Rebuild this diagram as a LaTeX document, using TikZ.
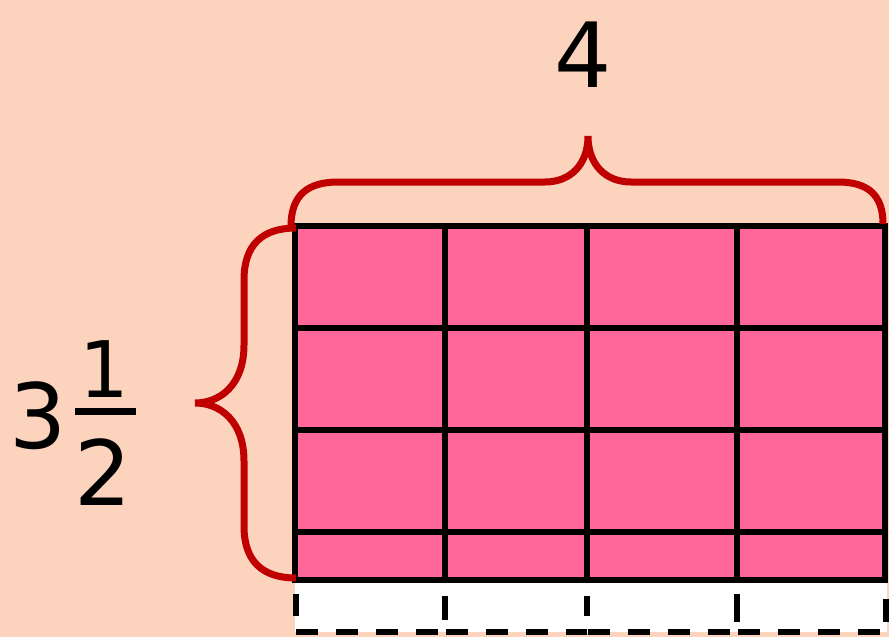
\documentclass[tikz,border=0pt]{standalone}
\usepackage{fontspec}
\setmainfont{DejaVu Sans}
\definecolor{bgpeach}{HTML}{FCD3BC}
\definecolor{cellpink}{HTML}{FF6699}
\definecolor{bracered}{HTML}{C00000}
\begin{document}
\begin{tikzpicture}[x=1pt,y=-1pt,
  gridline/.style={line width=6pt,black},
  bracestyle/.style={line width=7pt,bracered,line cap=butt},
  dashline/.style={line width=6pt,black,dash pattern=on 22pt off 18pt},
  bigtext/.style={font=\fontsize{90}{90}\selectfont,inner sep=0pt}]
\fill[bgpeach] (0,0) rectangle (889,637);
\useasboundingbox (0,0) rectangle (889,637);
% white strip
\fill[white] (295,582) rectangle (887,632);
% pink cells
\fill[cellpink] (295,226) rectangle (885,580);
% grid lines
\foreach \x in {295,445,587,737,885} \draw[gridline] (\x,223) -- (\x,583);
\foreach \y in {226,328,430,532,580} \draw[gridline] (292,\y) -- (888,\y);
% dashed bottom
\foreach \a/\b in {296/445,446/587,588/737,738/889} \draw[dashline] (\a,632) -- (\b,632);
\foreach \x/\t/\bb in {296/594/616,445/596/620,587/596/616,737/594/622,886/599/622} \draw[line width=6pt] (\x,\t) -- (\x,\bb);
% top brace
\coordinate (tl) at (291,226);
\coordinate (tip) at (588,136);
\coordinate (tr) at (883,224);
\draw[bracestyle] (tl) .. controls (291,195) and (308,182) .. (338,182) -- (545,182)
  .. controls (570,182) and (588,165) .. (tip)
  .. controls (588,165) and (606,182) .. (631,182) -- (838,182)
  .. controls (868,182) and (883,195) .. (tr);
% left brace
\coordinate (lt) at (296,228);
\coordinate (ltip) at (195,403);
\coordinate (lb) at (296,578);
\draw[bracestyle] (lt) .. controls (262,228) and (244,245) .. (244,280) -- (244,345)
  .. controls (244,385) and (220,403) .. (ltip)
  .. controls (220,403) and (244,421) .. (244,461) -- (244,526)
  .. controls (244,561) and (262,578) .. (lb);
% labels
\node[bigtext] (four) at (583,55) {4};
\node[bigtext] (three) at (38,416) {3};
\node[bigtext,font=\fontsize{78}{78}\selectfont] (one) at (104,369) {1};
\draw[line width=7pt] (75,411) -- (136,411);
\node[bigtext] (two) at (103,472) {2};
\end{tikzpicture}
\end{document}
